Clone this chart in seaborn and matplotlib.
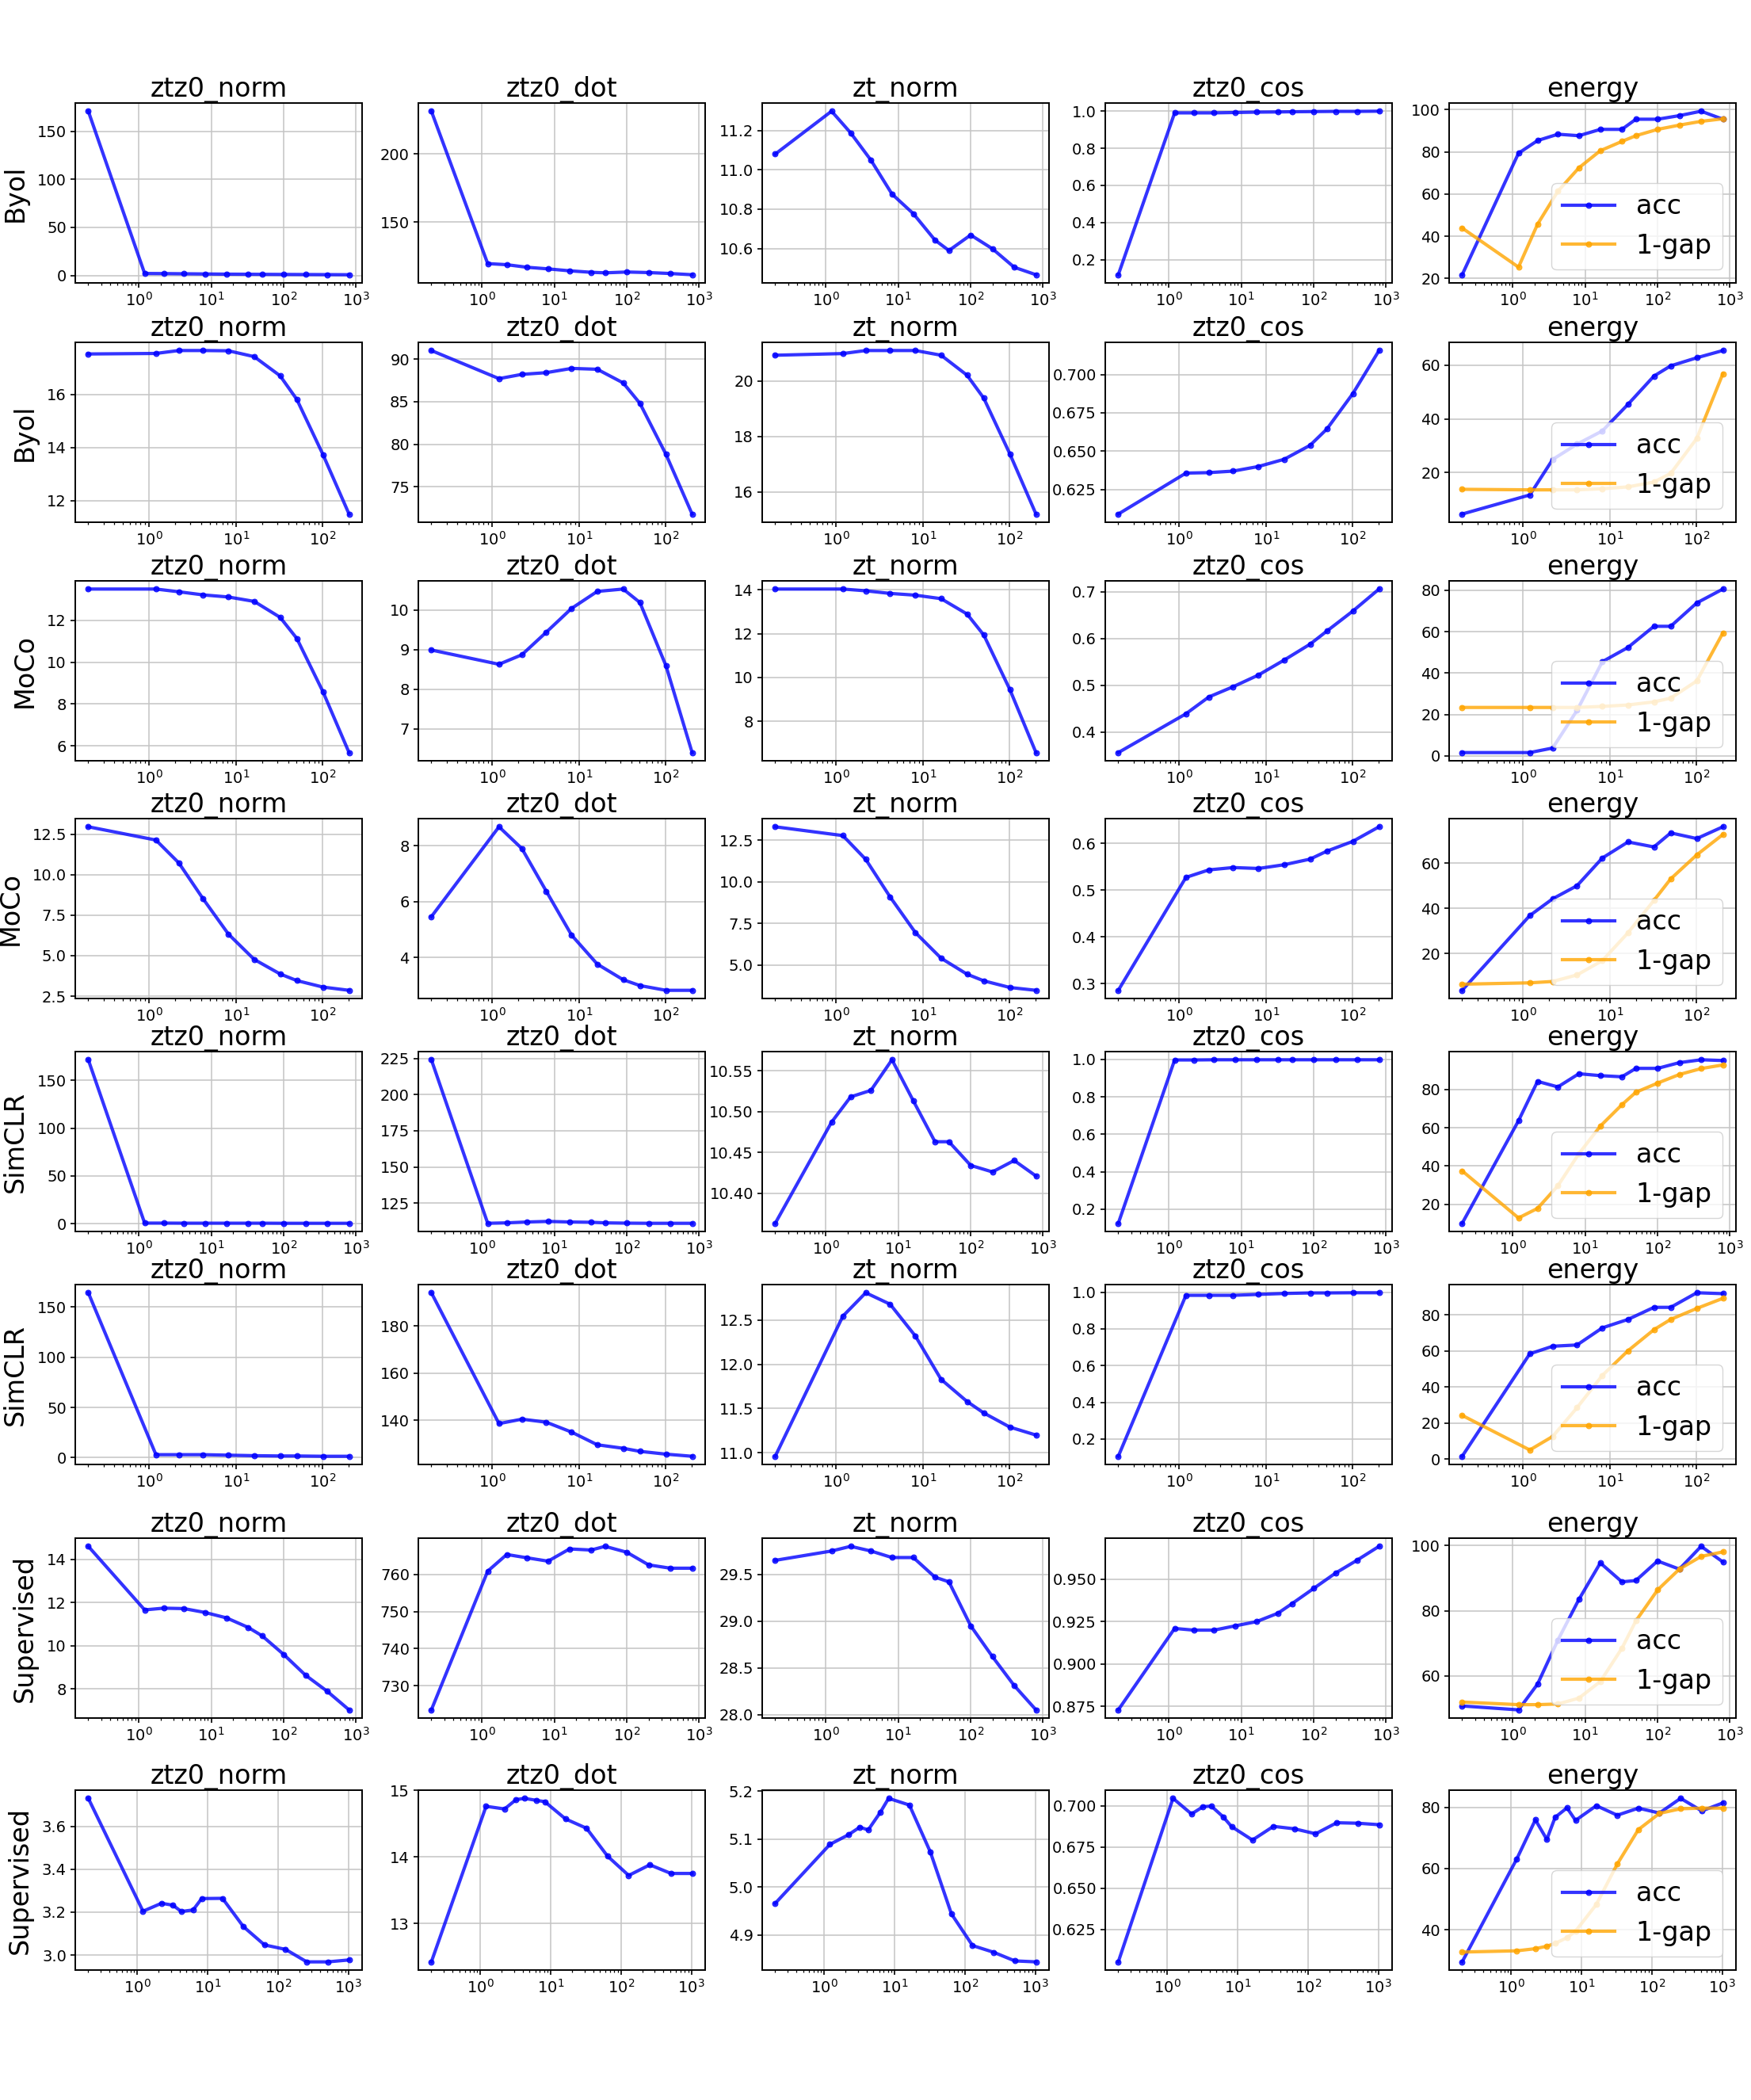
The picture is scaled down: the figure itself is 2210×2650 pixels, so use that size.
import matplotlib
matplotlib.use("Agg")
import matplotlib.pyplot as plt
import seaborn as sns

# x axis: noise levels for the three sweeps used
x_long = [0.2, 1.2, 2.2, 4.2, 8.2, 16.2, 32.2, 50.2, 100.2, 200.2, 400.2, 800.2]
x_short = [0.2, 1.2, 2.2, 4.2, 8.2, 16.2, 32.2, 50.2, 100.2, 200.2]
x_dense = [0.2, 1.2, 2.2, 3.2, 4.2, 6.2, 8.2, 16.2, 32.2, 64.2, 128.2, 256.2, 512.2, 1024.2]

row_names = ["Byol", "Byol", "MoCo", "MoCo", "SimCLR", "SimCLR", "Supervised", "Supervised"]
col_titles = ["ztz0_norm", "ztz0_dot", "zt_norm", "ztz0_cos", "energy"]

# row 1 - Byol
b1_norm = [171, 2.0, 1.9, 1.7, 1.5, 1.3, 1.2, 1.1, 1.0, 0.9, 0.8, 0.7]
b1_dot = [231.6, 119.3, 118.5, 116.6, 115.4, 114.0, 112.9, 112.5, 113.1, 112.7, 112.0, 111.1]
b1_zt = [11.08, 11.298, 11.188, 11.049, 10.877, 10.777, 10.643, 10.59, 10.669, 10.599, 10.505, 10.467]
b1_cos = [0.12, 0.99, 0.99, 0.99, 0.992, 0.994, 0.995, 0.996, 0.997, 0.998, 0.998, 0.999]
b1_acc = [21.8, 79.3, 85.3, 88.3, 87.6, 90.6, 90.6, 95.4, 95.4, 97.1, 99.2, 95.4]
b1_gap = [43.9, 25.4, 45.7, 61.3, 72.4, 80.5, 84.9, 87.6, 90.6, 92.6, 94.4, 95.6]

# row 2 - Byol
b2_norm = [17.52, 17.54, 17.65, 17.65, 17.64, 17.42, 16.70, 15.81, 13.74, 11.50]
b2_dot = [91.0, 87.7, 88.2, 88.4, 88.9, 88.8, 87.2, 84.8, 78.8, 71.8]
b2_zt = [20.93, 20.99, 21.10, 21.10, 21.10, 20.93, 20.21, 19.38, 17.37, 15.20]
b2_cos = [0.609, 0.6357, 0.636, 0.637, 0.640, 0.6447, 0.6538, 0.6644, 0.6876, 0.7156]
b2_acc = [4.6, 11.7, 24.9, 30.6, 35.5, 45.4, 55.9, 59.7, 62.7, 65.4]
b2_gap = [13.8, 13.6, 13.6, 13.6, 14.0, 14.7, 16.5, 19.7, 32.7, 56.8]

# row 3 - MoCo
m1_norm = [13.49, 13.49, 13.36, 13.21, 13.11, 12.90, 12.14, 11.13, 8.59, 5.68]
m1_dot = [8.99, 8.63, 8.87, 9.44, 10.04, 10.47, 10.53, 10.19, 8.59, 6.40]
m1_zt = [14.04, 14.04, 13.96, 13.84, 13.76, 13.60, 12.90, 11.94, 9.45, 6.57]
m1_cos = [0.356, 0.439, 0.475, 0.497, 0.522, 0.554, 0.588, 0.616, 0.659, 0.706]
m1_acc = [1.6, 1.6, 3.8, 22.0, 45.5, 52.4, 62.6, 62.6, 73.9, 80.6]
m1_gap = [23.4, 23.4, 23.4, 23.4, 23.9, 24.6, 26.1, 27.9, 36.2, 59.4]

# row 4 - MoCo
m2_norm = [12.96, 12.14, 10.73, 8.50, 6.33, 4.77, 3.87, 3.46, 3.06, 2.86]
m2_dot = [5.46, 8.68, 7.90, 6.37, 4.80, 3.76, 3.20, 2.99, 2.82, 2.82]
m2_zt = [13.30, 12.77, 11.34, 9.08, 6.94, 5.40, 4.44, 4.04, 3.64, 3.47]
m2_cos = [0.286, 0.527, 0.543, 0.548, 0.546, 0.554, 0.566, 0.583, 0.604, 0.635]
m2_acc = [3.8, 36.8, 44.2, 50.0, 62.2, 69.3, 67.1, 73.3, 70.8, 76.0]
m2_gap = [6.5, 7.1, 7.7, 10.6, 16.9, 29.2, 43.5, 53.0, 63.6, 72.6]

# row 5 - SimCLR
s1_norm = [171.5, 0.7, 0.7, 0.6, 0.6, 0.6, 0.6, 0.6, 0.5, 0.5, 0.5, 0.5]
s1_dot = [224.1, 111.0, 111.3, 111.9, 112.3, 111.9, 111.7, 111.3, 111.1, 111.0, 111.0, 111.0]
s1_zt = [10.363, 10.487, 10.518, 10.526, 10.5635, 10.513, 10.463, 10.463, 10.434, 10.426, 10.44, 10.421]
s1_cos = [0.125, 0.997, 0.997, 0.998, 0.998, 0.998, 0.998, 0.998, 0.998, 0.998, 0.998, 0.998]
s1_acc = [10.0, 63.6, 84.2, 81.3, 88.2, 87.2, 86.6, 91.0, 91.0, 94.0, 95.5, 95.1]
s1_gap = [37.4, 12.8, 17.8, 29.6, 46.4, 60.8, 72.0, 78.5, 83.3, 87.8, 90.9, 92.8]

# row 6 - SimCLR
s2_norm = [164.3, 2.9, 2.9, 2.9, 2.4, 1.9, 1.6, 1.6, 1.3, 1.3]
s2_dot = [194.2, 138.5, 140.4, 139.1, 134.9, 129.5, 128.0, 126.7, 125.5, 124.6]
s2_zt = [10.96, 12.545, 12.81, 12.68, 12.32, 11.83, 11.58, 11.45, 11.29, 11.20]
s2_cos = [0.106, 0.983, 0.983, 0.983, 0.988, 0.993, 0.996, 0.996, 0.997, 0.997]
s2_acc = [1.5, 58.4, 62.6, 63.3, 72.8, 77.5, 84.2, 84.2, 92.3, 91.8]
s2_gap = [24.2, 5.0, 12.5, 28.5, 46.4, 60.1, 71.8, 77.5, 83.6, 89.2]

# row 7 - Supervised
u1_norm = [14.61, 11.66, 11.74, 11.72, 11.54, 11.29, 10.85, 10.46, 9.59, 8.63, 7.88, 7.02]
u1_dot = [723.5, 760.9, 765.4, 764.5, 763.6, 766.9, 766.6, 767.6, 766.0, 762.6, 761.7, 761.7]
u1_zt = [29.65, 29.75, 29.80, 29.75, 29.68, 29.68, 29.47, 29.42, 28.95, 28.62, 28.31, 28.05]
u1_cos = [0.873, 0.921, 0.920, 0.920, 0.9225, 0.925, 0.930, 0.9356, 0.9446, 0.9536, 0.9613, 0.9694]
u1_acc = [50.8, 49.6, 57.5, 71.0, 83.5, 94.7, 88.9, 89.3, 95.3, 92.8, 99.8, 95.0]
u1_gap = [52.0, 51.2, 51.2, 51.4, 53.2, 58.3, 68.5, 76.9, 86.4, 92.8, 96.7, 98.1]

# row 8 - Supervised
u2_norm = [3.730, 3.204, 3.241, 3.232, 3.2025, 3.21, 3.263, 3.264, 3.132, 3.047, 3.026, 2.968, 2.968, 2.977]
u2_dot = [12.42, 14.76, 14.72, 14.86, 14.88, 14.85, 14.83, 14.57, 14.43, 14.01, 13.72, 13.88, 13.75, 13.75]
u2_zt = [4.966, 5.089, 5.109, 5.125, 5.119, 5.155, 5.185, 5.171, 5.073, 4.944, 4.878, 4.864, 4.846, 4.844]
u2_cos = [0.6053, 0.7045, 0.695, 0.6994, 0.6998, 0.6933, 0.6873, 0.6792, 0.6875, 0.686, 0.683, 0.6897, 0.6894, 0.6885]
u2_acc = [29.6, 63.2, 75.9, 69.5, 76.7, 79.8, 75.7, 80.5, 77.4, 79.7, 78.1, 82.9, 78.8, 81.4]
u2_gap = [32.8, 33.2, 33.9, 34.7, 35.6, 37.5, 39.6, 48.3, 61.5, 72.7, 78.0, 79.5, 79.7, 79.7]

rows = [
    (x_long, [b1_norm, b1_dot, b1_zt, b1_cos], b1_acc, b1_gap),
    (x_short, [b2_norm, b2_dot, b2_zt, b2_cos], b2_acc, b2_gap),
    (x_short, [m1_norm, m1_dot, m1_zt, m1_cos], m1_acc, m1_gap),
    (x_short, [m2_norm, m2_dot, m2_zt, m2_cos], m2_acc, m2_gap),
    (x_long, [s1_norm, s1_dot, s1_zt, s1_cos], s1_acc, s1_gap),
    (x_short, [s2_norm, s2_dot, s2_zt, s2_cos], s2_acc, s2_gap),
    (x_long, [u1_norm, u1_dot, u1_zt, u1_cos], u1_acc, u1_gap),
    (x_dense, [u2_norm, u2_dot, u2_zt, u2_cos], u2_acc, u2_gap),
]

plt.rcParams.update({
    "font.family": "DejaVu Sans",
    "axes.linewidth": 1.4,
    "xtick.labelsize": 14,
    "ytick.labelsize": 14,
    "xtick.major.size": 4.5,
    "ytick.major.size": 4.5,
    "xtick.minor.size": 2.5,
    "xtick.major.width": 1.2,
    "ytick.major.width": 1.2,
    "xtick.minor.width": 0.9,
})

# axes layout in pixels (figure is 2210 x 2650)
W, H = 2210, 2650
tops = [130, 432, 733, 1033, 1327, 1621, 1941, 2259]
lefts = [95, 528, 962, 1395, 1829]
ax_w, ax_h = 362, 227

fig = plt.figure(figsize=(22.1, 26.5), dpi=100)

line_kw = dict(linewidth=3, marker="o", markersize=5, alpha=0.8)

for r, (xs, metrics, acc, gap) in enumerate(rows):
    # right to left so each axes sits on top of its right neighbour's tick labels
    for c in reversed(range(5)):
        ax = fig.add_axes([lefts[c] / W, 1 - (tops[r] + ax_h) / H, ax_w / W, ax_h / H])
        if c < 4:
            sns.lineplot(x=xs, y=metrics[c], ax=ax, color="blue",
                         markeredgecolor="blue", **line_kw)
        else:
            sns.lineplot(x=xs, y=acc, ax=ax, color="blue",
                         markeredgecolor="blue", label="acc", **line_kw)
            sns.lineplot(x=xs, y=gap, ax=ax, color="orange",
                         markeredgecolor="orange", label="1-gap", **line_kw)
            ax.legend(loc="lower right", fontsize=24)
        ax.set_xscale("log")
        ax.grid(True, color="#c4c4c4", linewidth=1.1)
        ax.set_axisbelow(True)
        ax.set_title(col_titles[c], fontsize=24)
        if c == 0:
            ax.set_ylabel(row_names[r], fontsize=24, labelpad=8)

fig.savefig("out.png", dpi=100)
